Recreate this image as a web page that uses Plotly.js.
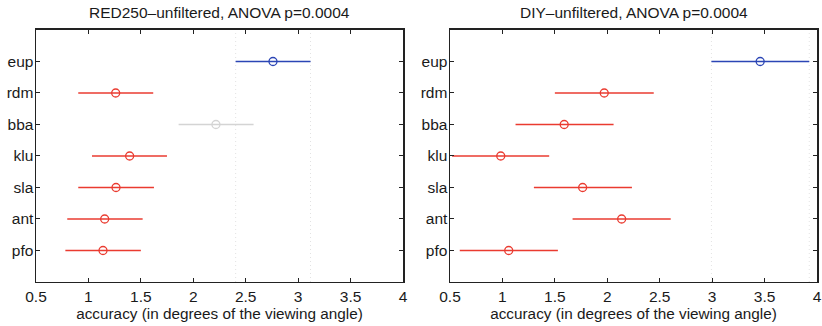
<!DOCTYPE html>
<html>
<head>
<meta charset="utf-8">
<script src="https://cdn.plot.ly/plotly-3.0.1.min.js"></script>
<style>html,body{margin:0;padding:0;background:#fff;}#chart{width:822px;height:326px;}</style>
</head>
<body>
<div id="chart"></div>
<script>
const groups = ['eup','rdm','bba','klu','sla','ant','pfo'];
const xTickVals = [0.5, 1, 1.5, 2, 2.5, 3, 3.5, 4];
const xTickText = ['0.5','1','1.5','2','2.5','3','3.5','4'];

const leftTitle = 'RED250\u2013unfiltered, ANOVA p=0.0004';
const leftMean = [2.76, 1.26, 2.216, 1.393, 1.263, 1.155, 1.139];
const leftLo   = [2.404, 0.903, 1.86, 1.034, 0.903, 0.798, 0.78];
const leftHi   = [3.118, 1.618, 2.575, 1.749, 1.625, 1.517, 1.50];
const leftColor = ['blue','red','gray','red','red','red','red'];

const rightTitle = 'DIY\u2013unfiltered, ANOVA p=0.0004';
const rightMean = [3.458, 1.971, 1.589, 0.984, 1.765, 2.137, 1.06];
const rightLo   = [2.993, 1.5, 1.125, 0.52, 1.3, 1.669, 0.593];
const rightHi   = [3.926, 2.443, 2.06, 1.446, 2.235, 2.605, 1.529];
const rightColor = ['blue','red','red','red','red','red','red'];

const xTitle = 'accuracy (in degrees of the viewing angle)';

const palette = {blue:'#2b45b5', red:'#ea3b30', gray:'#d4d4d4'};
const n = groups.length;
const ypos = groups.map((g,i)=>n-i);

const traces = [];
function addPanel(mean, lo, hi, col, xa, ya){
  // dotted reference lines at the bounds of the first group
  [lo[0], hi[0]].forEach(v=>{
    traces.push({type:'scatter', mode:'lines', x:[v,v], y:[0,n+1], xaxis:xa, yaxis:ya,
      line:{color:'#e2e2e2', width:1, dash:'1px,3px'}, hoverinfo:'skip', showlegend:false});
  });
  for(let i=0;i<n;i++){
    traces.push({type:'scatter', mode:'lines', x:[lo[i],hi[i]], y:[ypos[i],ypos[i]], xaxis:xa, yaxis:ya,
      line:{color:palette[col[i]], width:1.5}, showlegend:false});
  }
  traces.push({type:'scatter', mode:'markers', x:mean, y:ypos, xaxis:xa, yaxis:ya,
    marker:{symbol:'circle-open', size:8, color:col.map(c=>palette[c]), line:{width:1.3}}, showlegend:false});
}
addPanel(leftMean, leftLo, leftHi, leftColor, 'x', 'y');
addPanel(rightMean, rightLo, rightHi, rightColor, 'x2', 'y2');

const fontFam = 'Liberation Sans, Arial, Helvetica, sans-serif';
function xax(dom, anchor){
  return {domain:dom, anchor:anchor, range:[0.5,4], tickvals:xTickVals, ticktext:xTickText,
    ticks:'inside', ticklen:4, tickwidth:1, tickcolor:'#222', showline:true, linecolor:'#222', linewidth:1.5,
    mirror:'allticks', showgrid:false, zeroline:false, tickfont:{family:fontFam, size:15.5, color:'#1a1a1a'},
    title:{text:xTitle, font:{family:fontFam, size:15.3, color:'#1a1a1a'}, standoff:0}};
}
function yax(anchor){
  return {domain:[0.135,0.908], anchor:anchor, range:[0,n+1], tickvals:ypos, ticktext:groups,
    ticks:'inside', ticklen:4, tickwidth:1, tickcolor:'#222', showline:true, linecolor:'#222', linewidth:1.5,
    mirror:'allticks', showgrid:false, zeroline:false, ticklabelstandoff:-2,
    tickfont:{family:fontFam, size:15.5, color:'#1a1a1a'}};
}
const layout = {
  width:822, height:326, margin:{l:0,r:0,t:0,b:0}, paper_bgcolor:'#fff', plot_bgcolor:'#fff',
  showlegend:false,
  xaxis: xax([36/822, 403/822], 'y'),
  yaxis: yax('x'),
  xaxis2: xax([450/822, 817/822], 'y2'),
  yaxis2: yax('x2'),
  annotations:[
    {text:leftTitle, xref:'paper', yref:'paper', x:(36+403)/2/822, y:1-13/326, xanchor:'center', yanchor:'middle', showarrow:false, font:{family:fontFam, size:15.5, color:'#1a1a1a'}},
    {text:rightTitle, xref:'paper', yref:'paper', x:(450+817)/2/822, y:1-13/326, xanchor:'center', yanchor:'middle', showarrow:false, font:{family:fontFam, size:15.5, color:'#1a1a1a'}}
  ]
};
Plotly.newPlot('chart', traces, layout, {displayModeBar:false, staticPlot:true});
</script>
</body>
</html>
